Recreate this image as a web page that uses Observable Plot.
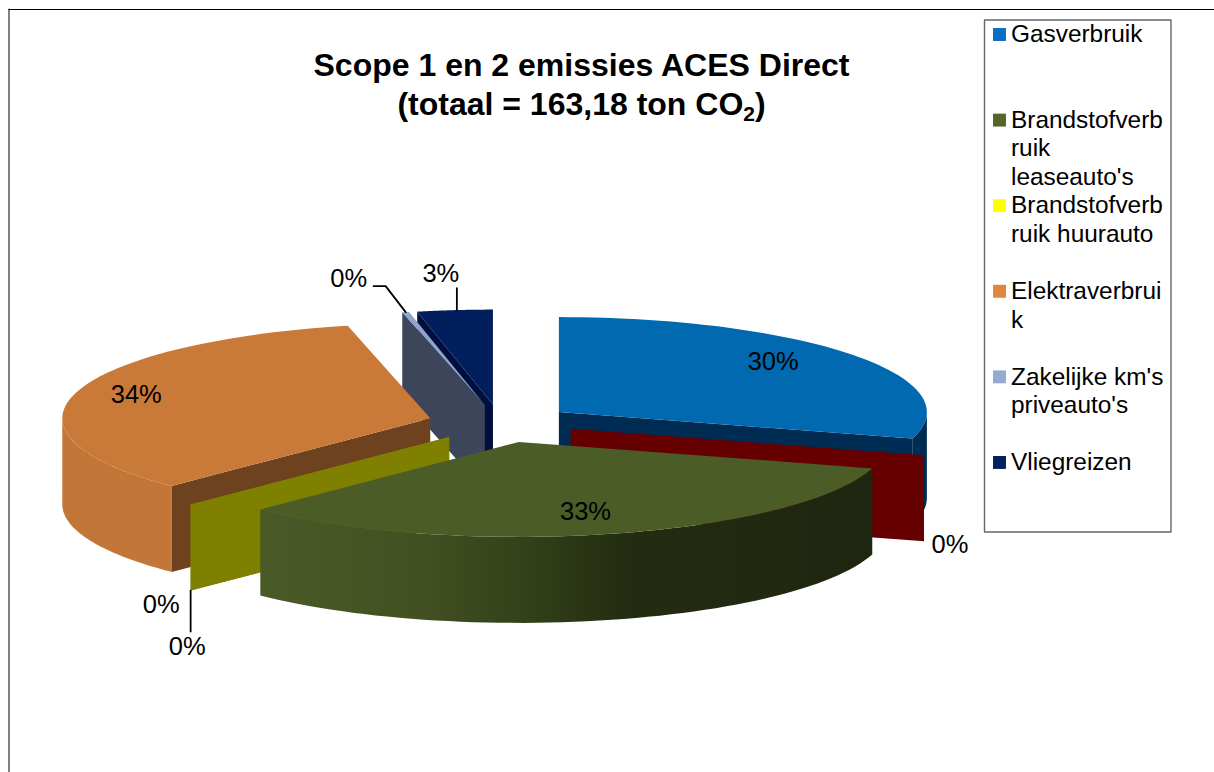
<!DOCTYPE html>
<html>
<head>
<meta charset="utf-8">
<script src="https://cdn.jsdelivr.net/npm/d3@7"></script>
<script src="https://cdn.jsdelivr.net/npm/@observablehq/plot@0.6"></script>
<style>
  html, body { margin: 0; padding: 0; background: #fff; overflow: hidden; }
  #wrap { position: relative; width: 1214px; height: 772px; font-family: "Liberation Sans", Arial, sans-serif; }
  #title { position: absolute; left: 281.5px; width: 600px; top: 46px; text-align: center; font-weight: bold; font-size: 32px; line-height: 38.5px; color: #000; }
  #title sub { font-size: 21px; line-height: 0; vertical-align: -6px; }
</style>
</head>
<body>
<div id="wrap"><div id="chart"></div>
<div id="title">Scope 1 en 2 emissies ACES Direct<br>(totaal = 163,18 ton CO<sub>2</sub>)</div></div>
<script>
// ---- data ----
const categories = ["Gasverbruik", "", "Brandstofverbruik leaseauto's", "Brandstofverbruik huurauto", "", "Elektraverbruik", "Zakelijke km's priveauto's", "Vliegreizen"];
const shares     = [29.5, 0, 32.9, 0, 0, 34, 0.3, 3.3];
const labels     = ["30%", "0%", "33%", "0%", "0%", "34%", "0%", "3%"];
const topColors  = ["#0069b0", "#a00000", "#4b5c26", "#cccc00", "#cccc00", "#c97a39", "#8fa3cb", "#001f5c"];
const cutColors  = ["#002b52", "#660000", "#2a3415", "#7f7f00", "#7f7f00", "#6e421e", "#3c4559", "#000f3d"];
const rimColors  = ["#002b52", "#660000", "url(#greenRim)", "#7f7f00", "#7f7f00", "#c27637", "#3c4559", "#001f5c"];
const legendLines = ["Gasverbruik", "Brandstofverb", "ruik", "leaseauto's", "Brandstofverb", "ruik huurauto", "Elektraverbrui", "k", "Zakelijke km's", "priveauto's", "Vliegreizen"];
const legendRows  = [0, 3, 4, 5, 6, 7, 9, 10, 12, 13, 15];
const legendKeys  = [["#0a6fc2", 0], ["#56662b", 3], ["#ffff00", 6], ["#e0873f", 9], ["#95aad3", 12], ["#002060", 15]];

// ---- layout of the 3D pie ----
const W = 1214, H = 772;
const C = {x: 500, y: 423, rx: 368, ry: 95, ex: 73, ey: 19, depth: 86};
const paintOrder = [7, 6, 5, 4, 3, 0, 1, 2];
// label placement relative to the slice rim: [dx, dy, from wall bottom?]
const labelPlace = [[-80, 7, 0], [26, 4, 1], [-26, -22, 0], [-3.5, 56, 1], [-29.5, 14, 1], [60, 2, 0], [-57, -33, 0], [-14, -36, 0]];
const leaderOffsets = {6: [[0, 0], [-20, -26], [-32, -26]], 7: [[2, 0], [2, -22]], 3: [[0, 0], [0, 41]]};

// ---- geometry derived from the values ----
const rad = d => d * Math.PI / 180;
let cum = 0;
const slices = shares.map((v, i) => {
  const a0 = cum; cum += v * 3.6; const a1 = cum, mid = (a0 + a1) / 2;
  const cx = C.x + C.ex * Math.sin(rad(mid)), cy = C.y - C.ey * Math.cos(rad(mid));
  const rim = a => ({x: cx + C.rx * Math.sin(rad(a)), y: cy - C.ry * Math.cos(rad(a))});
  return {i, a0, a1, mid, cx, cy, rim};
});
const arc = (s, a, b) => d3.range(0, 61).map(k => s.rim(a + (b - a) * k / 60));
const down = p => ({x: p.x, y: p.y + C.depth});
const polys = [];
for (const i of paintOrder) {
  const s = slices[i], apex = {x: s.cx, y: s.cy};
  const wall = a => polys.push({pts: [apex, s.rim(a), down(s.rim(a)), down(apex)], fill: cutColors[i]});
  // outer rim wall: the part of the arc facing the viewer
  const lo = Math.max(s.a0, 90), hi = Math.min(s.a1, 270);
  if (hi > lo) { const t = arc(s, lo, hi); polys.push({pts: [...t, ...t.slice().reverse().map(down)], fill: rimColors[i]}); }
  if (s.a0 > 180) wall(s.a0);
  if (s.a1 < 180) wall(s.a1);
  if (s.a1 > s.a0) polys.push({pts: [apex, ...arc(s, s.a0, s.a1)], fill: topColors[i]});
}
const anchors = slices.map((s, i) => {
  const p = s.rim(s.mid);
  return labelPlace[i][2] ? down(p) : p;
});
const labelRows = labels.map((t, i) => ({t, x: anchors[i].x + labelPlace[i][0], y: anchors[i].y + labelPlace[i][1]}));
const leaders = Object.entries(leaderOffsets).map(([i, offs]) => offs.map(([dx, dy]) => ({x: anchors[i].x + dx, y: anchors[i].y + dy})));

const LEG = {x: 1010.5, key: 999, y: 34, step: 28.53};
const FRAME = {l: 8.5, t: 9};
const BOX = {l: 984, r: 1170.5, t: 19.5, b: 531.5};

const defs = () => {
  const d = d3.create("svg:defs");
  const g = d.append("linearGradient").attr("id", "greenRim").attr("x1", 0).attr("x2", 1).attr("y1", 0).attr("y2", 0);
  for (const [o, c] of [[0, "#4a5a27"], [0.25, "#435122"], [0.42, "#35421a"], [0.6, "#232c10"], [1, "#1f2610"]])
    g.append("stop").attr("offset", o).attr("stop-color", c);
  return d.node();
};

const chart = Plot.plot({
  width: W, height: H, margin: 0,
  x: {domain: [0, W], range: [0, W], axis: null},
  y: {domain: [0, H], range: [0, H], axis: null},
  style: {background: "#fff", fontFamily: "'Liberation Sans', Arial, sans-serif", color: "#000"},
  marks: [
    defs,
    // outer frame: grey left edge, black top edge
    Plot.line([{x: FRAME.l, y: H}, {x: FRAME.l, y: FRAME.t}], {x: "x", y: "y", stroke: "#808080", strokeWidth: 2}),
    Plot.line([{x: FRAME.l, y: FRAME.t}, {x: W, y: FRAME.t}], {x: "x", y: "y", stroke: "#000", strokeWidth: 1.2}),
    // legend frame
    Plot.line([{x: BOX.l, y: BOX.t}, {x: BOX.r, y: BOX.t}, {x: BOX.r, y: BOX.b}, {x: BOX.l, y: BOX.b}, {x: BOX.l, y: BOX.t}], {x: "x", y: "y", stroke: "#666", strokeWidth: 1.4}),
    ...polys.map(p => Plot.line(p.pts, {x: "x", y: "y", fill: p.fill, stroke: "none"})),
    ...leaders.map(l => Plot.line(l, {x: "x", y: "y", stroke: "#000", strokeWidth: 1.8})),
    Plot.text(labelRows, {x: "x", y: "y", text: "t", fontSize: 25.5, fill: "#000", textAnchor: "middle", lineAnchor: "middle"}),
    Plot.dot(legendKeys, {x: () => LEG.key, y: d => LEG.y + d[1] * LEG.step, fill: d => d[0], symbol: "square", r: 7.3, stroke: "none"}),
    Plot.text(legendLines, {x: () => LEG.x, y: (d, i) => LEG.y + legendRows[i] * LEG.step, text: d => d, fontSize: 24.4, fill: "#000", textAnchor: "start", lineAnchor: "middle"})
  ]
});
document.getElementById("chart").appendChild(chart);
</script>
</body>
</html>
